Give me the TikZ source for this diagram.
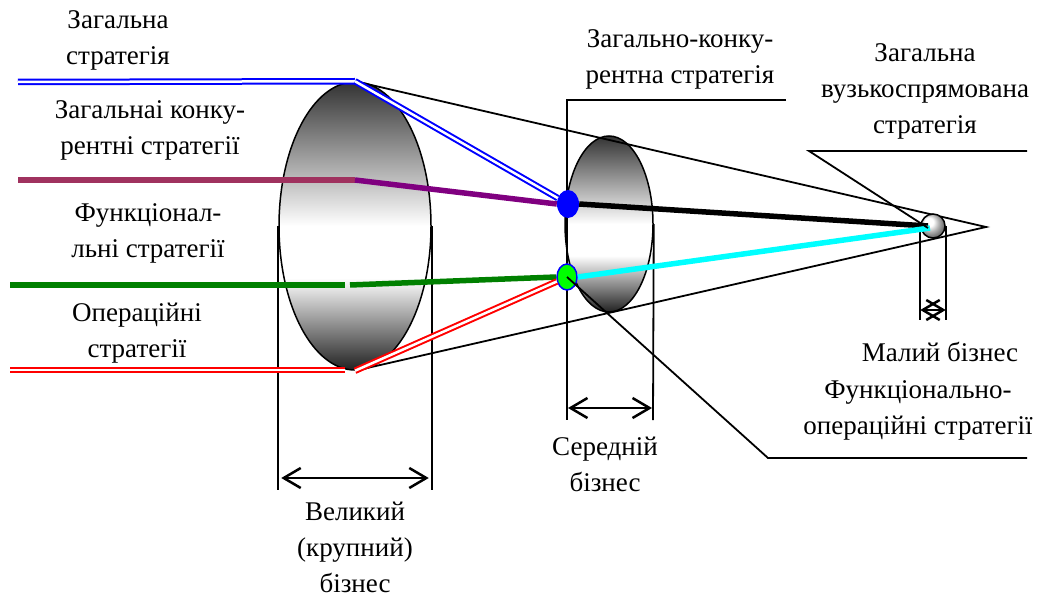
\documentclass[tikz,border=0pt]{standalone}
\usepackage{fontspec}
\setmainfont{Liberation Serif}
\usetikzlibrary{arrows.meta,shapes.geometric}
\definecolor{cplum}{HTML}{A0325F}
\definecolor{cpurple}{HTML}{800080}
\definecolor{cgreen}{HTML}{008000}
\definecolor{clime}{HTML}{00FF00}
\definecolor{ccyan}{HTML}{00FFFF}
\pgfdeclareverticalshading{bodyshade}{100bp}{color(0bp)=(black!87); color(25bp)=(black!87);
  color(41bp)=(white); color(50bp)=(white); color(75bp)=(black!80); color(100bp)=(black!80)}
\tikzset{
  >={Straight Barb[length=17pt,width=20pt,line width=2.5pt]},
  lbl/.style={font=\fontsize{27}{36}\selectfont,align=center,inner sep=0pt},
  guide/.style={draw=black,line width=1.8pt},
  dim/.style={<->,line width=2.5pt},
  thick line/.style={line width=5.5pt},
  dbl line/.style={draw=#1,line width=2pt,double=white,double distance=2.5pt},
  body/.style={ellipse,draw,line width=1.5pt,inner sep=0pt,shading=bodyshade},
  dot/.style={ellipse,inner sep=0pt,fill=#1},
}
\begin{document}
\begin{tikzpicture}[x=1pt,y=-1pt]
\useasboundingbox (0,0) rectangle (1046,596);

% businesses
\node[body,minimum width=152pt,minimum height=288pt] (big) at (355,226) {};
\node[body,minimum width=88pt,minimum height=176pt] (mid) at (609,224) {};
\coordinate (apex) at (986,227);

% cone
\draw[guide] (big.north) -- (apex) -- (big.south);

% dimension lines
\draw[guide] (big.west) -- ++(0,264) coordinate (bw);
\draw[guide] (big.east) -- ++(0,264) coordinate (be);
\draw[dim] ([shift={(3,-12)}]bw) -- ([shift={(-3,-12)}]be);

\coordinate (mtop) at (567,100);
\draw[guide] (786,100) -- (mtop) -- (567,420) coordinate (mw);
\draw[guide] (mid.east) -- (653,420) coordinate (me);
\draw[dim] ([shift={(1,-12)}]mw) -- ([shift={(-1,-12)}]me);

% strategy lines
\draw[dbl line=blue] (18,82) -- (big.north) coordinate (bn);
\draw[thick line,cplum] (18,180) -- (355,180) coordinate (pk);
\draw[thick line,cgreen] (10,285) -- (345,285);
\draw[dbl line=red] (10,370) -- (345,370);

\node[dot=blue,minimum width=22pt,minimum height=28pt] (bdot) at (568,204) {};
\node[dot=clime,draw=blue,line width=1.5pt,minimum width=20pt,minimum height=26pt] (gdot) at (567,277) {};

\draw[dbl line=blue] (bn) -- (bdot);
\draw[thick line,cpurple] (pk) -- (bdot.west);
\draw[thick line,cgreen] (350,285) -- (gdot.west);
\draw[dbl line=red] (big.south) -- (gdot);

% small business
\node[circle,draw,line width=1.5pt,inner sep=0pt,minimum size=24pt,
      shading=ball,ball color=white] (small) at (933,226) {};
\draw[guide] (small.west) -- ++(0,94) coordinate (sw);
\draw[guide] (small.east) -- ++(0,94) coordinate (se);
\draw[dim] ([shift={(0,-10)}]sw) -- ([shift={(0,-10)}]se);

\draw[thick line,black] (bdot.east) -- ([xshift=-5]small.center);
\draw[thick line,ccyan] (gdot.east) -- ([shift={(-3,2)}]small.center);

% leaders
\draw[guide] (gdot.center) -- (768,458) -- (1027,458);
\draw[guide] ([shift={(-5,2)}]small.center) -- (809,151) -- (1027,151);

% labels
\node[lbl] (l1) at (118,40) {Загальна\\стратегія};
\node[lbl] (l2) at (150,130) {Загальнаі конку-\\рентні стратегії};
\node[lbl] (l3) at (148,233) {Функціонал-\\льні стратегії};
\node[lbl] (l4) at (137,333) {Операційні\\стратегії};
\node[lbl] (lbig) at (355,547) {Великий\\(крупний)\\бізнес};
\node[lbl] (lmid) at (605,464) {Середній\\бізнес};
\node[lbl] (lsmall) at (940,352) {Малий бізнес};
\node[lbl] (lgc) at (680,59) {Загально-конку-\\рентна стратегія};
\node[lbl] (lgn) at (925,91) {Загальна\\вузькоспрямована\\стратегія};
\node[lbl] (lfo) at (918,410) {Функціонально-\\операційні стратегії};

\end{tikzpicture}
\end{document}
